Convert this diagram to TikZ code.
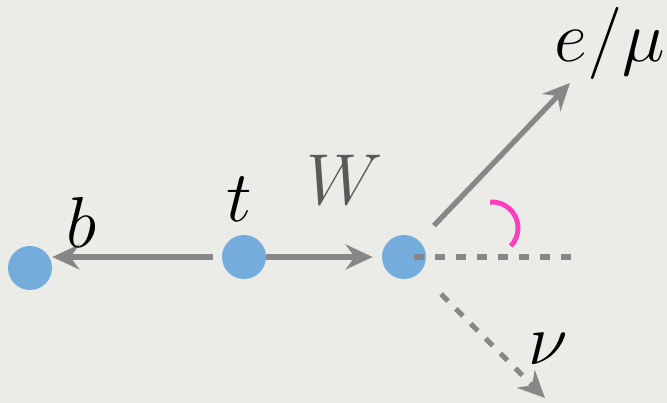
\documentclass[tikz,border=0pt]{standalone}
\usepackage{xcolor}
\usepackage{tikz}
\usetikzlibrary{arrows.meta}

\definecolor{bgcol}{HTML}{EBEBE8}
\definecolor{dotblue}{HTML}{74ADDB}
\definecolor{arrowgray}{HTML}{878787}
\definecolor{anglepink}{HTML}{FF3EBF}

\begin{document}
\begin{tikzpicture}[
    dot/.style={circle,fill=dotblue,inner sep=0pt,minimum size=0.88cm},
    leg/.style={line width=3pt,color=arrowgray,
        -{Stealth[length=5.4mm,width=5mm,inset=1.8mm]}},
    dashleg/.style={leg,dash pattern=on 0.2cm off 0.22cm},
    lbl/.style={anchor=base,inner sep=0pt,font=\Huge,scale=1.65}
]
    % Background
    \fill[bgcol] (0,0) rectangle (13.34,8.06);
    \useasboundingbox (0,0) rectangle (13.34,8.06);

    % Particles
    \node[dot] (b) at (0.60,2.70) {};
    \node[dot] (t) at (4.88,2.92) {};
    \node[dot] (W) at (8.08,2.92) {};

    \coordinate (eend) at (11.40,6.40);
    \coordinate (nuend) at (10.90,0.10);
    \coordinate (axisend) at (11.44,2.92);

    % Decay legs
    \draw[leg, shorten <=0.18cm] (t.west) -- (t -| b.east);
    \draw[leg, shorten >=0.18cm] (t) -- (W);
    \draw[leg, shorten <=0.42cm] (W) -- (eend);
    \draw[dashleg, shorten <=0.60cm] (W) -- (nuend);

    % W direction and angle
    \draw[line width=3pt, color=arrowgray, dash pattern=on 0.2cm off 0.22cm]
        ([xshift=0.2cm]W.center) -- (axisend);
    \draw[line width=2.8pt, color=anglepink]
        (9.84,3.50) ++(94:0.52) arc[start angle=94,end angle=-44,radius=0.52];

    % Labels
    \node[lbl] (blbl) at (1.64,3.10) {$b$};
    \node[lbl] (tlbl) at (4.78,3.62) {$t$};
    \node[lbl, text=black!65] (Wlbl) at (6.90,3.96) {$W$};
    \node[lbl] (elbl) at (12.20,6.82) {$e/\mu$};
    \node[lbl] (nulbl) at (10.96,0.76) {$\nu$};
\end{tikzpicture}
\end{document}
